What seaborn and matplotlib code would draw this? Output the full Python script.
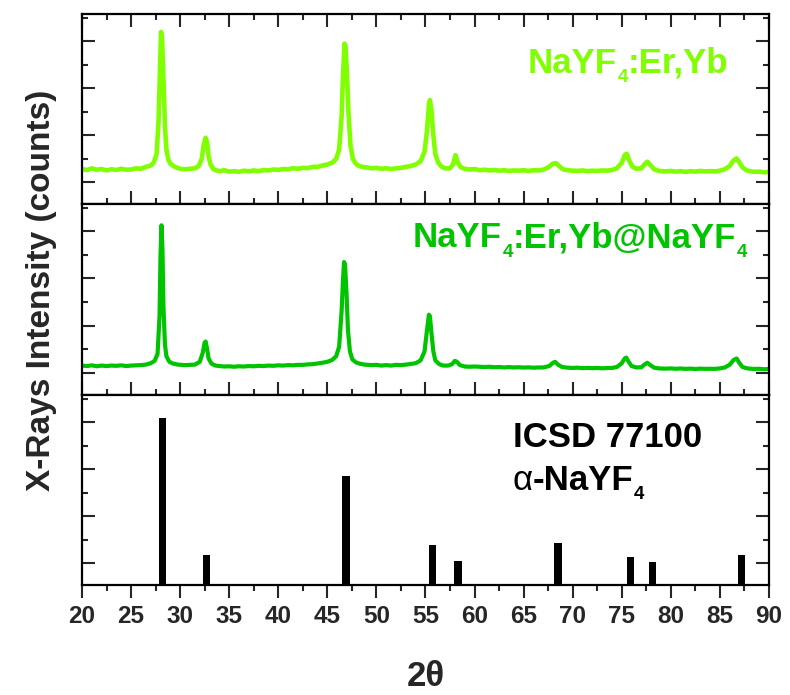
import numpy as np
import pandas as pd
import seaborn as sns
import matplotlib
matplotlib.use("Agg")
import matplotlib.pyplot as plt
from matplotlib.ticker import MultipleLocator, FixedLocator

# ---------------- data ----------------
two_theta_top = [20.0, 20.5, 21.0, 21.5, 22.0, 22.5, 23.0, 23.5, 24.0, 24.5, 25.0, 25.5, 26.0, 26.5, 27.0, 27.3, 27.6, 27.8,
                 27.95, 28.05, 28.15, 28.3, 28.45, 28.6, 28.8, 29.0, 29.3, 29.6, 30.0, 30.5, 31.0, 31.5, 31.9, 32.2, 32.4,
                 32.6, 32.75, 32.9, 33.1, 33.4, 33.8, 34.0, 34.5, 35.0, 35.5, 36.0, 36.5, 37.0, 37.5, 38.0, 38.5, 39.0,
                 39.5, 40.0, 40.5, 41.0, 41.5, 42.0, 42.5, 43.0, 43.5, 44.0, 44.5, 45.0, 45.5, 45.9, 46.2, 46.45, 46.6,
                 46.75, 46.85, 47.0, 47.15, 47.35, 47.6, 47.9, 48.2, 48.6, 49.0, 49.5, 50.0, 50.5, 51.0, 51.5, 52.0, 52.5,
                 53.0, 53.5, 54.0, 54.5, 54.9, 55.15, 55.35, 55.45, 55.6, 55.8, 56.0, 56.3, 56.6, 57.0, 57.5, 57.8, 58.05,
                 58.3, 58.6, 59.0, 59.5, 60.0, 60.5, 61.0, 61.5, 62.0, 62.5, 63.0, 63.5, 64.0, 64.5, 65.0, 65.5, 66.0,
                 66.5, 67.0, 67.5, 68.0, 68.3, 68.7, 69.0, 69.5, 70.0, 70.5, 71.0, 71.5, 72.0, 72.5, 73.0, 73.5, 74.0,
                 74.5, 75.0, 75.3, 75.5, 75.8, 76.1, 76.5, 77.0, 77.3, 77.6, 77.9, 78.3, 78.8, 79.5, 80.0, 80.5, 81.0,
                 81.5, 82.0, 82.5, 83.0, 83.5, 84.0, 84.5, 85.0, 85.5, 86.0, 86.4, 86.7, 87.0, 87.3, 87.7, 88.0, 88.5,
                 89.0, 89.5, 90.0]
counts_top = [1290, 1260, 1300, 1270, 1285, 1255, 1280, 1265, 1290, 1270, 1275, 1300, 1290, 1330, 1360, 1420, 1600, 2300,
              3400, 4200, 4100, 3200, 2200, 1700, 1480, 1400, 1350, 1320, 1290, 1280, 1290, 1300, 1350, 1500, 1800,
              1950, 1850, 1550, 1380, 1280, 1250, 1240, 1260, 1230, 1240, 1225, 1250, 1235, 1255, 1240, 1265, 1255,
              1275, 1265, 1285, 1280, 1300, 1290, 1310, 1305, 1330, 1330, 1360, 1380, 1420, 1500, 1700, 2400, 3300,
              3950, 3900, 3300, 2500, 1800, 1500, 1400, 1350, 1330, 1320, 1300, 1310, 1290, 1300, 1285, 1300, 1310,
              1330, 1350, 1380, 1450, 1650, 2100, 2650, 2750, 2550, 2000, 1600, 1420, 1340, 1300, 1300, 1380, 1580,
              1420, 1320, 1290, 1275, 1285, 1260, 1270, 1255, 1265, 1250, 1260, 1245, 1255, 1250, 1260, 1245, 1260,
              1255, 1270, 1320, 1400, 1410, 1330, 1280, 1260, 1250, 1245, 1255, 1240, 1250, 1245, 1255, 1250, 1265,
              1300, 1420, 1580, 1610, 1450, 1330, 1290, 1300, 1380, 1440, 1370, 1280, 1245, 1235, 1245, 1230, 1240,
              1225, 1240, 1230, 1245, 1235, 1240, 1235, 1250, 1280, 1350, 1470, 1510, 1420, 1320, 1260, 1240, 1225,
              1230, 1215, 1225]

two_theta_mid = [20.0, 20.5, 21.0, 21.5, 22.0, 22.5, 23.0, 23.5, 24.0, 24.5, 25.0, 25.5, 26.0, 26.5, 27.0, 27.4, 27.7, 27.9,
                 28.0, 28.1, 28.2, 28.3, 28.45, 28.6, 28.9, 29.3, 29.8, 30.5, 31.0, 31.5, 32.0, 32.3, 32.5, 32.6, 32.75,
                 32.9, 33.2, 33.6, 34.0, 34.5, 35.0, 35.5, 36.0, 36.5, 37.0, 37.5, 38.0, 38.5, 39.0, 39.5, 40.0, 40.5,
                 41.0, 41.5, 42.0, 42.5, 43.0, 43.5, 44.0, 44.5, 45.0, 45.5, 45.9, 46.2, 46.45, 46.6, 46.7, 46.8, 46.95,
                 47.1, 47.3, 47.55, 47.9, 48.3, 48.8, 49.5, 50.0, 50.5, 51.0, 51.5, 52.0, 52.5, 53.0, 53.5, 54.0, 54.5,
                 54.9, 55.15, 55.35, 55.45, 55.6, 55.8, 56.0, 56.4, 56.8, 57.3, 57.7, 58.0, 58.2, 58.5, 59.0, 59.5, 60.0,
                 61.0, 61.5, 62.0, 62.5, 63.0, 63.5, 64.0, 64.5, 65.0, 65.5, 66.0, 66.5, 67.0, 67.6, 68.0, 68.2, 68.5,
                 68.9, 69.5, 70.0, 70.5, 71.0, 71.5, 72.0, 72.5, 73.0, 73.5, 74.0, 74.5, 75.0, 75.3, 75.45, 75.7, 76.0,
                 76.5, 77.0, 77.3, 77.6, 77.9, 78.3, 78.8, 79.5, 80.0, 80.5, 81.0, 81.5, 82.0, 82.5, 83.0, 83.5, 84.0,
                 84.5, 85.0, 85.5, 86.0, 86.4, 86.7, 87.0, 87.3, 87.7, 88.0, 88.5, 89.0, 89.5, 90.0]
counts_mid = [1150, 1140, 1155, 1135, 1150, 1140, 1150, 1145, 1155, 1140, 1150, 1155, 1160, 1170, 1200, 1250, 1400, 2200,
              3500, 4130, 3600, 2400, 1600, 1350, 1230, 1190, 1170, 1160, 1165, 1170, 1230, 1420, 1640, 1660, 1500,
              1300, 1190, 1150, 1140, 1130, 1135, 1125, 1135, 1130, 1140, 1135, 1145, 1140, 1150, 1145, 1155, 1150,
              1160, 1155, 1165, 1165, 1175, 1180, 1195, 1210, 1230, 1270, 1350, 1550, 2300, 3000, 3350, 3300, 2700,
              1900, 1450, 1280, 1220, 1190, 1170, 1160, 1165, 1150, 1160, 1150, 1165, 1160, 1170, 1185, 1200, 1260,
              1450, 1900, 2230, 2200, 1850, 1450, 1260, 1180, 1150, 1150, 1180, 1250, 1230, 1160, 1130, 1125, 1130,
              1120, 1125, 1115, 1120, 1110, 1118, 1110, 1115, 1108, 1112, 1105, 1110, 1110, 1140, 1210, 1230, 1170,
              1120, 1105, 1100, 1105, 1095, 1100, 1095, 1100, 1092, 1098, 1100, 1120, 1200, 1300, 1320, 1230, 1140,
              1110, 1115, 1170, 1210, 1160, 1105, 1090, 1085, 1090, 1082, 1088, 1080, 1085, 1078, 1085, 1080, 1082,
              1080, 1090, 1110, 1170, 1270, 1300, 1200, 1120, 1095, 1085, 1078, 1082, 1072, 1078]

icsd_two_theta = [28.2, 32.7, 46.9, 55.7, 58.3, 68.5, 75.9, 78.1, 87.2]
icsd_intensity = [100, 18.0, 65.4, 24.0, 14.4, 25.4, 16.8, 13.8, 18.2]

x_ticks = [20, 25, 30, 35, 40, 45, 50, 55, 60, 65, 70, 75, 80, 85, 90]
# label pieces: (text, kind)  kind: "b" bold, "s" subscript, "r" regular weight
label_top = [("NaYF", "b"), ("4", "s"), (":Er,Yb", "b")]
label_mid = [("NaYF", "b"), ("4", "s"), (":Er,Yb@NaYF", "b"), ("4", "s")]
label_ref1 = [("ICSD 77100", "b")]
label_ref2 = [("α", "r"), ("-NaYF", "b"), ("4", "s")]
y_label = "X-Rays Intensity (counts)"
x_label = "2θ"

# ---------------- style ----------------
sns.set_style("ticks")
plt.rcParams["font.family"] = ["Liberation Sans", "DejaVu Sans"]
plt.rcParams["font.weight"] = "bold"

c_top = "#80FF00"
c_mid = "#00C400"

fig = plt.figure(figsize=(7.9, 6.95), dpi=100)
gs = fig.add_gridspec(3, 1, left=82/790, right=769/790, top=1-14/695, bottom=1-585/695, hspace=0)
ax1 = fig.add_subplot(gs[0])
ax2 = fig.add_subplot(gs[1], sharex=ax1)
ax3 = fig.add_subplot(gs[2], sharex=ax1)

df_top = pd.DataFrame({"two_theta": two_theta_top, "counts": counts_top})
df_mid = pd.DataFrame({"two_theta": two_theta_mid, "counts": counts_mid})
sns.lineplot(data=df_top, x="two_theta", y="counts", ax=ax1, color=c_top, lw=3.3, sort=False)
sns.lineplot(data=df_mid, x="two_theta", y="counts", ax=ax2, color=c_mid, lw=3.0, sort=False)
ax3.bar(icsd_two_theta, icsd_intensity, width=0.75, color="black", edgecolor="none")

ax1.set_ylim(534, 4581)
ax2.set_ylim(532, 4575)
ax3.set_ylim(0, 114)
ax3.set_xlim(20, 90)

for ax in (ax1, ax2, ax3):
    ax.set_xlabel("")
    ax.set_ylabel("")
    ax.set_yticklabels([])
    for s in ax.spines.values():
        s.set_linewidth(1.6)
        s.set_color("black")
    ax.xaxis.set_major_locator(FixedLocator(x_ticks))
    ax.xaxis.set_minor_locator(MultipleLocator(2.5))

for ax in (ax1, ax2):
    ax.yaxis.set_major_locator(MultipleLocator(1000))
    ax.yaxis.set_minor_locator(MultipleLocator(500))
ax3.yaxis.set_major_locator(MultipleLocator(28.1, offset=13.2))
ax3.yaxis.set_minor_locator(MultipleLocator(28.1, offset=27.25))

for ax in (ax1, ax2, ax3):
    ax.tick_params(axis="y", which="both", direction="in", left=True, right=True, labelleft=False, width=1.5)
    ax.tick_params(axis="y", which="major", length=9.5)
    ax.tick_params(axis="y", which="minor", length=4.5)

ax1.tick_params(axis="x", which="both", direction="in", top=True, bottom=True, labelbottom=False, width=1.5)
ax2.tick_params(axis="x", which="both", direction="in", top=False, bottom=True, labelbottom=False, width=1.5)
ax3.tick_params(axis="x", which="both", direction="out", top=False, bottom=True, labelbottom=True, width=1.5, pad=5)
for ax in (ax1, ax2, ax3):
    ax.tick_params(axis="x", which="major", length=9.5)
    ax.tick_params(axis="x", which="minor", length=4.5)

ax3.set_xticklabels([str(t) for t in x_ticks], fontsize=17.5, fontweight="bold")


def chain_label(ax, x, y, parts, color, size=25, sub_size=13.5, sub_drop_px=10):
    """Draw a label made of pieces; subscripts lowered below the baseline."""
    desc = 0.21  # approx. descent fraction of em for Liberation Sans
    first_txt, first_kind = parts[0]
    first = ax.text(x, y, first_txt, transform=ax.transAxes, ha="left", va="baseline",
                    fontsize=size, fontweight="normal" if first_kind == "r" else "bold", color=color)
    prev = first
    for txt, kind in parts[1:]:
        if kind == "s":
            off = (size - sub_size) * desc - sub_drop_px * 0.72
            prev = ax.annotate(txt, xy=(1, 0), xycoords=(prev, first), xytext=(0.3, off),
                               textcoords="offset points", ha="left", va="bottom",
                               fontsize=sub_size, fontweight="bold", color=color)
        else:
            prev = ax.annotate(txt, xy=(1, 0), xycoords=(prev, first), xytext=(0, 0),
                               textcoords="offset points", ha="left", va="bottom",
                               fontsize=size, fontweight="normal" if kind == "r" else "bold", color=color)


chain_label(ax1, (528 - 82) / 687, (205 - 73) / 191, label_top, c_top)
chain_label(ax2, (413 - 82) / 687, (395 - 248) / 190, label_mid, c_mid)
chain_label(ax3, (513 - 82) / 687, (585 - 447) / 190, label_ref1, "black")
chain_label(ax3, (513 - 82) / 687, (585 - 490) / 190, label_ref2, "black")

fig.text(0.0525, 1-290/695, y_label, rotation=90, ha="center", va="center", fontsize=24, fontweight="bold")
fig.text(425.5/790, 1-676/695, x_label, ha="center", va="center", fontsize=25, fontweight="bold")

fig.savefig("out.png", dpi=100)
